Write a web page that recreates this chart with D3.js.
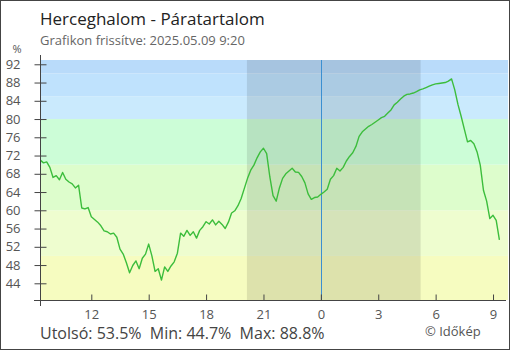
<!DOCTYPE html>
<html><head><meta charset="utf-8">
<script src="https://cdn.jsdelivr.net/npm/d3@7"></script>
<style>
html,body{margin:0;padding:0;background:#fff;}
svg{display:block;font-family:"Open Sans",sans-serif;}
</style></head>
<body>
<svg id="c" width="510" height="350"></svg>
<script>
// ---- data ----
const title = "Herceghalom - Páratartalom";
const subtitle = "Grafikon frissítve: 2025.05.09 9:20";
const startTime = new Date(2025, 4, 8, 9, 20);
const stepMinutes = 10;
const humidity = [
 71.0,70.4,70.6,69.4,67.2,67.6,66.7,68.3,66.8,66.2,
 65.8,64.9,65.5,60.5,60.3,60.6,58.6,58.0,57.4,56.6,
 55.5,55.3,54.8,55.0,54.1,51.5,50.4,48.5,46.3,47.9,
 48.9,47.2,49.5,50.4,52.6,50.0,46.6,47.2,44.7,47.6,
 46.6,47.8,48.7,50.6,55.0,54.3,55.6,54.5,55.3,53.9,
 55.6,56.4,57.5,57.0,57.9,56.8,57.6,56.9,56.0,57.4,
 59.4,59.9,61.0,62.6,64.8,67.0,68.8,69.9,71.5,72.8,
 73.6,72.4,67.3,63.2,62.0,64.9,67.0,68.0,68.6,69.2,
 68.4,68.3,67.4,66.0,63.6,62.4,62.8,62.9,63.5,64.0,
 64.6,66.8,67.6,69.2,68.6,69.4,70.8,71.8,72.6,74.0,
 76.2,77.2,77.8,78.4,78.8,79.3,79.8,80.3,80.6,81.3,
 82.0,83.1,83.7,84.4,85.0,85.4,85.5,85.7,86.0,86.4,
 86.6,86.9,87.2,87.5,87.7,87.8,87.9,88.0,88.3,88.8,
 86.4,83.2,80.6,77.8,75.0,75.3,74.6,72.8,69.9,64.4,
 62.0,58.2,58.9,57.8,53.5
];
const yTicks = [44,48,52,56,60,64,68,72,76,80,84,88,92];
const xTickTimes = [
 new Date(2025,4,8,12), new Date(2025,4,8,15), new Date(2025,4,8,18), new Date(2025,4,8,21),
 new Date(2025,4,9,0), new Date(2025,4,9,3), new Date(2025,4,9,6), new Date(2025,4,9,9)
];
const bandEdges = [0, 50, 60, 70, 80, 85, 90, 100];
const bandColors = ["#f6fcc0","#eefdcf","#ddfdcc","#ccfdd7","#caeafd","#bfe2fd","#b9dbfa"];
const nightStart = new Date(2025,4,8,20,8);
const nightEnd = new Date(2025,4,9,5,13);
const midnight = new Date(2025,4,9,0,0);
const stats = "Utolsó: 53.5%  Min: 44.7%  Max: 88.8%";
const credit = "© Időkép";

// ---- layout ----
const W = 510, H = 350;
const L = 40.3, R = 508, T = 60, B = 300;
const svg = d3.select("#c");

const data = humidity.map((v,i)=>({t:new Date(startTime.getTime()+i*stepMinutes*60000), v}));
const x = d3.scaleTime().domain([startTime, new Date(2025,4,9,9,47)]).range([L, R]);
const y = d3.scaleLinear().domain([40.34, 92.94]).range([B, T]);

svg.append("rect").attr("x",0.5).attr("y",0.5).attr("width",W-1).attr("height",H-1)
  .attr("fill","#fff").attr("stroke","#444");

const plot = svg.append("g");
for (let i=0;i<bandColors.length;i++){
  const lo = Math.max(bandEdges[i], y.domain()[0]);
  const hi = Math.min(bandEdges[i+1], y.domain()[1]);
  plot.append("rect").attr("x",L).attr("width",R-L)
    .attr("y",y(hi)).attr("height",y(lo)-y(hi)).attr("fill",bandColors[i]);
}
plot.append("rect").attr("x",x(nightStart)).attr("width",x(nightEnd)-x(nightStart))
  .attr("y",T).attr("height",B-T).attr("fill","#000").attr("fill-opacity",0.1);
plot.append("line").attr("x1",Math.round(x(midnight))+0.5).attr("x2",Math.round(x(midnight))+0.5)
  .attr("y1",T).attr("y2",B).attr("stroke","#3b8fd1").attr("stroke-width",1);

plot.append("path").datum(data)
  .attr("d", d3.line().x(d=>x(d.t)).y(d=>y(d.v)))
  .attr("fill","none").attr("stroke","#3cbd3c").attr("stroke-width",1.4).attr("stroke-linejoin","round");

// axes
const axCol = "#444";
svg.append("line").attr("x1",34).attr("x2",506).attr("y1",B+0.5).attr("y2",B+0.5).attr("stroke",axCol);
svg.append("line").attr("x1",40.5).attr("x2",40.5).attr("y1",55).attr("y2",306).attr("stroke",axCol);

const yAxis = d3.axisLeft(y).tickValues(yTicks).tickSize(0).tickFormat(d3.format("d"));
const gy = svg.append("g").attr("transform","translate(40.5,0)").call(yAxis);
gy.select(".domain").remove();
gy.selectAll(".tick line").attr("x1",-6).attr("x2",6).attr("stroke",axCol);
gy.selectAll(".tick text").attr("x",-20).attr("fill","#555").attr("font-size",13)
  .attr("font-family","'Open Sans',sans-serif");

const xAxis = d3.axisBottom(x).tickValues(xTickTimes).tickSize(0).tickFormat(d=>String(d.getHours()));
const gx = svg.append("g").attr("transform",`translate(0,${B+0.5})`).call(xAxis);
gx.select(".domain").remove();
gx.selectAll(".tick line").attr("y1",-6).attr("y2",0).attr("stroke",axCol);
gx.selectAll(".tick text").attr("y",9).attr("dy","0.71em").attr("fill","#555").attr("font-size",13)
  .attr("font-family","'Open Sans',sans-serif");

// texts
svg.append("text").attr("x",40).attr("y",25).text(title).attr("font-size",17).attr("fill","#222");
svg.append("text").attr("x",40).attr("y",45).text(subtitle).attr("font-size",13).attr("fill","#666");
svg.append("text").attr("x",17).attr("y",53).text("%").attr("font-size",11).attr("fill","#555").attr("text-anchor","middle");
svg.append("text").attr("x",40).attr("y",339).text(stats).attr("font-size",16).attr("fill","#444")
  .attr("xml:space","preserve").style("white-space","pre");
svg.append("text").attr("x",425).attr("y",336).text(credit).attr("font-size",13).attr("fill","#555");
</script>
</body></html>
